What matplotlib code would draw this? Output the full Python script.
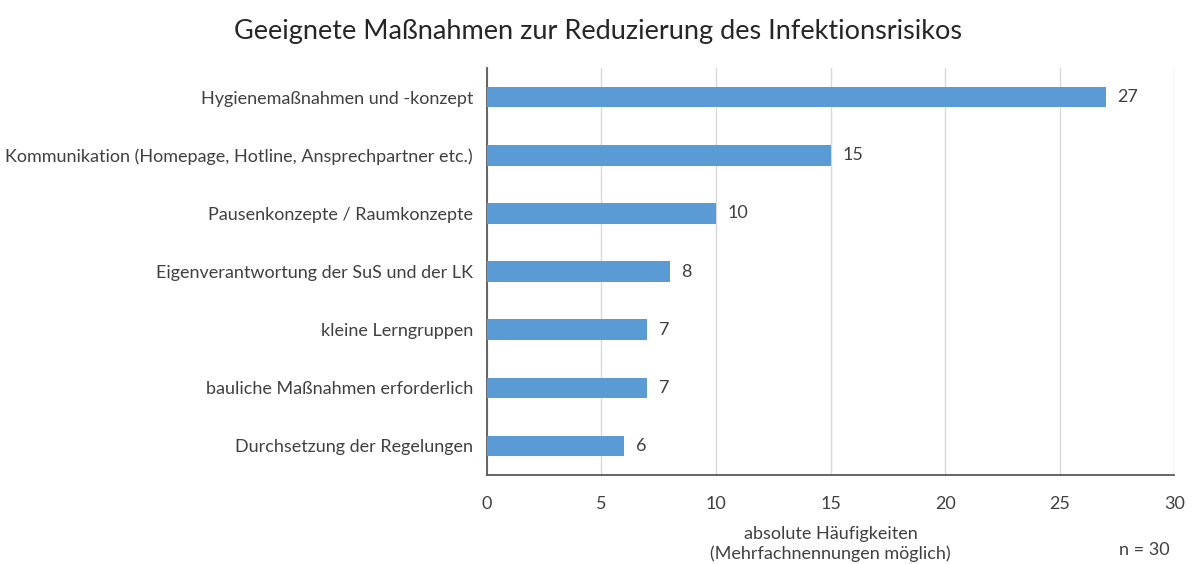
import matplotlib.pyplot as plt

# data
categories = [
    "Hygienemaßnahmen und -konzept",
    "Kommunikation (Homepage, Hotline, Ansprechpartner etc.)",
    "Pausenkonzepte / Raumkonzepte",
    "Eigenverantwortung der SuS und der LK",
    "kleine Lerngruppen",
    "bauliche Maßnahmen erforderlich",
    "Durchsetzung der Regelungen",
]
counts = [27, 15, 10, 8, 7, 7, 6]
xticks = [0, 5, 10, 15, 20, 25, 30]

plt.rcParams['font.family'] = ['Lato', 'DejaVu Sans']
text_col = '#404040'

fig = plt.figure(figsize=(11.96, 5.64), dpi=100)
ax = fig.add_axes([0.407, 0.158, 0.575, 0.721])

ypos = list(range(len(categories)))
ax.barh(ypos, counts, height=0.35, color='#5B9BD5', zorder=3)
ax.set_ylim(len(categories) - 0.5, -0.5)
ax.set_xlim(0, 30)
ax.set_yticks(ypos)
ax.set_yticklabels(categories, fontsize=13, color=text_col)
ax.set_xticks(xticks)
ax.set_xticklabels([str(t) for t in xticks], fontsize=13, color=text_col)
ax.tick_params(axis='both', length=0)
ax.tick_params(axis='y', pad=10)
ax.tick_params(axis='x', pad=15)

ax.grid(axis='x', color='#d9d9d9', linewidth=1, zorder=0)
for s in ['top', 'right']:
    ax.spines[s].set_visible(False)
for s in ['left', 'bottom']:
    ax.spines[s].set_color('#595959')
    ax.spines[s].set_linewidth(1.3)

for y, v in zip(ypos, counts):
    ax.text(v + 0.5, y, str(v), va='center', ha='left', fontsize=13, color=text_col)

ax.set_xlabel("absolute Häufigkeiten\n(Mehrfachnennungen möglich)", fontsize=13,
              color=text_col, labelpad=10, linespacing=1.25)
fig.text(0.5, 0.945, "Geeignete Maßnahmen zur Reduzierung des Infektionsrisikos",
         ha='center', va='center', fontsize=19.5, color='#262626')
fig.text(0.978, 0.025, "n = 30", ha='right', va='center', fontsize=13, color=text_col)

fig.savefig('out.png', dpi=100)
